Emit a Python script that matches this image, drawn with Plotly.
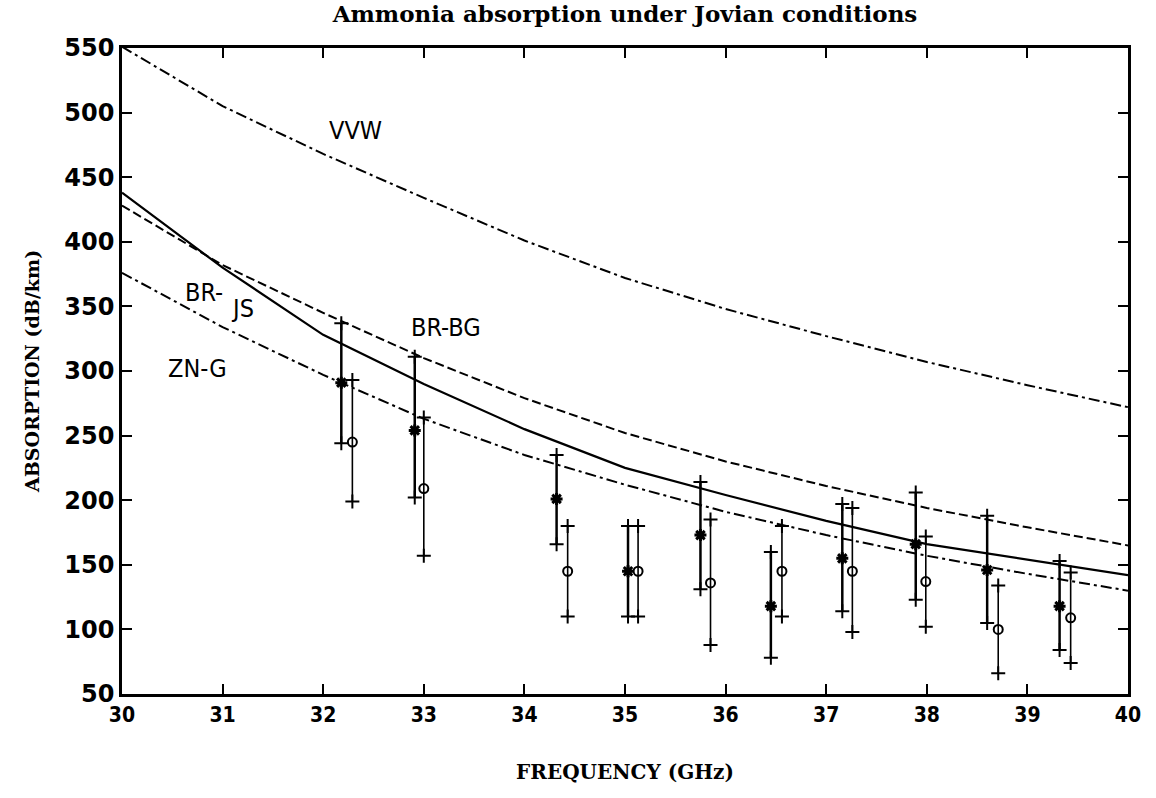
import plotly.graph_objects as go

# ---- data ----
freq = [30, 31, 32, 33, 34, 35, 36, 37, 38, 39, 40]
br_js = [438, 380, 328, 290, 255, 225, 204, 184, 166, 154, 142]
br_bg = [428, 382, 345, 310, 279, 252, 230, 211, 194, 179, 165]
zn_g = [376, 334, 297, 263, 235, 212, 191, 173, 157, 143, 130]
vvw = [551, 505, 468, 434, 401, 372, 348, 327, 307, 289, 272]

star_f = [32.18, 32.91, 34.32, 35.03, 35.75, 36.45, 37.16, 37.89, 38.60, 39.32]
star_v = [291, 254, 201, 145, 173, 118, 155, 166, 146, 118]
star_hi = [337, 311, 235, 180, 214, 160, 197, 206, 188, 153]
star_lo = [244, 202, 166, 110, 131, 78, 114, 123, 105, 84]

circ_f = [32.29, 33.00, 34.43, 35.13, 35.85, 36.56, 37.26, 37.99, 38.71, 39.43]
circ_v = [245, 209, 145, 145, 136, 145, 145, 137, 100, 109]
circ_hi = [293, 264, 180, 180, 185, 180, 194, 172, 134, 144]
circ_lo = [199, 157, 110, 110, 88, 110, 98, 102, 66, 74]

x_ticks = list(range(30, 41))
y_ticks = list(range(50, 551, 50))

labels = [("VVW", 32.32, 486), ("BR-", 30.82, 361), ("JS", 31.2, 348),
          ("ZN-G", 30.75, 302), ("BR-BG", 33.22, 334)]

LBL_FONT = "DejaVu Sans Condensed, DejaVu Sans, sans-serif"
SERIF = "DejaVu Serif, serif"

fig = go.Figure()

fig.add_trace(go.Scatter(x=freq, y=vvw, mode="lines",
                         line=dict(color="black", width=2, dash="11px,4px,3px,4px")))
fig.add_trace(go.Scatter(x=freq, y=br_bg, mode="lines",
                         line=dict(color="black", width=2, dash="9px,4px")))
fig.add_trace(go.Scatter(x=freq, y=br_js, mode="lines",
                         line=dict(color="black", width=2.2)))
fig.add_trace(go.Scatter(x=freq, y=zn_g, mode="lines",
                         line=dict(color="black", width=2, dash="11px,4px,3px,4px")))

# error bars (vertical lines)
fig.add_trace(go.Scatter(
    x=star_f, y=star_v, mode="markers",
    marker=dict(symbol="asterisk-open", size=10, color="black", line=dict(width=3, color="black")),
    error_y=dict(type="data", symmetric=False,
                 array=[h - v for h, v in zip(star_hi, star_v)],
                 arrayminus=[v - l for v, l in zip(star_v, star_lo)],
                 width=0, thickness=2.5, color="black")))
fig.add_trace(go.Scatter(
    x=circ_f, y=circ_v, mode="markers",
    marker=dict(symbol="circle-open", size=9, color="black", line=dict(width=2, color="black")),
    error_y=dict(type="data", symmetric=False,
                 array=[h - v for h, v in zip(circ_hi, circ_v)],
                 arrayminus=[v - l for v, l in zip(circ_v, circ_lo)],
                 width=0, thickness=1.6, color="black")))

# "+" end caps
fig.add_trace(go.Scatter(
    x=star_f + star_f + circ_f + circ_f,
    y=star_hi + star_lo + circ_hi + circ_lo,
    mode="markers",
    marker=dict(symbol="cross-thin-open", size=10, color="black", line=dict(width=2, color="black"))))

for txt, fx, fy in labels:
    fig.add_annotation(x=fx, y=fy, xref="x", yref="y", text=txt, showarrow=False,
                       font=dict(family=LBL_FONT, size=25, color="black"))

fig.update_layout(
    width=1156, height=798,
    margin=dict(l=122, r=28, t=48, b=104),
    paper_bgcolor="white", plot_bgcolor="white",
    showlegend=False,
    title=dict(text="Ammonia absorption under Jovian conditions",
               xref="paper", x=0.5, xanchor="center", y=0.992, yanchor="top",
               font=dict(family=SERIF, size=23, color="black", weight="bold")),
)

axis_common = dict(showgrid=False, zeroline=False, showline=True, linecolor="black",
                   linewidth=2.5, ticks="inside", ticklen=10, tickwidth=2,
                   tickcolor="black", mirror="ticks")

fig.update_xaxes(range=[30, 40], tickvals=x_ticks, ticktext=[str(t) for t in x_ticks],
                 tickfont=dict(family="DejaVu Sans Condensed, DejaVu Sans, sans-serif",
                               size=21, color="black", weight="bold"),
                 title=dict(text="FREQUENCY (GHz)", standoff=40,
                            font=dict(family=SERIF, size=20, color="black", weight="bold")),
                 **axis_common)
fig.update_yaxes(range=[50, 550], tickvals=y_ticks, ticktext=[str(t) for t in y_ticks],
                 tickfont=dict(family="DejaVu Sans, sans-serif", size=24, color="black", weight="bold"),
                 title=dict(text="ABSORPTION (dB/km)", standoff=20,
                            font=dict(family=SERIF, size=19, color="black", weight="bold")),
                 **axis_common)

fig.write_html("out.html")
